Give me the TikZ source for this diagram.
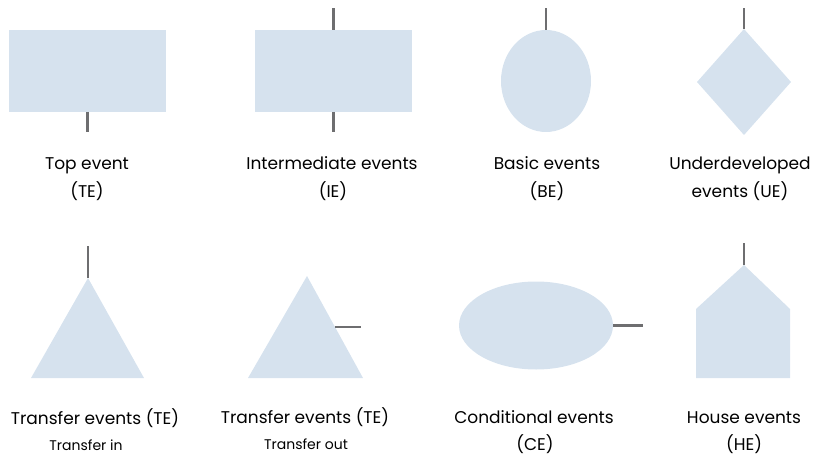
\documentclass[tikz,border=0pt]{standalone}
\usepackage{fontspec}
\setmainfont{Poppins}
\usetikzlibrary{shapes.geometric}

\definecolor{shapefill}{HTML}{D6E2EE}
\definecolor{stubgray}{HTML}{6E6E70}

\tikzset{
  symbol/.style={fill=shapefill, draw=none, inner sep=0pt, outer sep=0pt},
  stub/.style={draw=stubgray, line width=2.7pt},
  caption/.style={anchor=base, inner sep=0pt, text=black, font=\fontsize{17}{20}\selectfont},
  subcaption/.style={anchor=base, inner sep=0pt, text=black, font=\fontsize{14}{17}\selectfont},
}

\begin{document}
\begin{tikzpicture}[x=1pt, y=-1pt]
  \useasboundingbox (0,0) rectangle (818,457);

  % ---- first row: event symbols ----
  \node[symbol, rectangle, minimum width=157pt, minimum height=82pt] (te) at (87.5,71) {};
  \node[symbol, rectangle, minimum width=157pt, minimum height=82pt] (ie) at (333.5,71) {};
  \node[symbol, ellipse, minimum width=90pt, minimum height=102pt] (be) at (546,81) {};
  \node[symbol, diamond, minimum width=94pt, minimum height=106pt] (ue) at (744,82) {};

  \coordinate (teout) at (te.south |- 0,132);
  \coordinate (iein)  at (ie.north |- 0,8);
  \coordinate (ieout) at (ie.south |- 0,132);
  \coordinate (bein)  at (be.north |- 0,8);
  \coordinate (uein)  at (ue.north |- 0,8);

  \draw[stub] (te.south) -- (teout);
  \draw[stub] (ie.north) -- (iein);
  \draw[stub] (ie.south) -- (ieout);
  \draw[stub] (be.north) -- (bein);
  \draw[stub] (ue.north) -- (uein);

  % ---- second row: event symbols ----
  \coordinate (tiapex) at (88,278);
  \fill[shapefill] (31,378) -- (tiapex) -- (144,378) -- cycle;
  \coordinate (tiin) at (88,246);
  \draw[stub] (tiapex) -- (tiin);

  \coordinate (toapex) at (307,276);
  \fill[shapefill] (248,378) -- (toapex) -- (363,378) -- cycle;
  \coordinate (toside) at (335,327);
  \coordinate (toout) at (361,327);
  \draw[stub] (toside) -- (toout);

  \node[symbol, ellipse, minimum width=154pt, minimum height=88pt] (ce) at (536,325.5) {};
  \coordinate (ceout) at (643,325.5);
  \draw[stub] (ce.east) -- (ceout);

  \coordinate (heapex) at (744,265);
  \fill[shapefill] (696,378) -- (696,309) -- (heapex) -- (790,309) -- (790,378) -- cycle;
  \coordinate (hein) at (744,243);
  \draw[stub] (heapex) -- (hein);

  % ---- captions ----
  \node[caption] (tecap1) at (87,170) {Top event};
  \node[caption] (tecap2) at (87,197) {(TE)};
  \node[caption] (iecap1) at (332,170) {Intermediate events};
  \node[caption] (iecap2) at (333,197) {(IE)};
  \node[caption] (becap1) at (547,170) {Basic events};
  \node[caption] (becap2) at (547,197) {(BE)};
  \node[caption] (uecap1) at (740,170) {Underdeveloped};
  \node[caption] (uecap2) at (740,197) {events (UE)};

  \node[caption] (ticap1) at (95,424) {Transfer events (TE)};
  \node[subcaption] (ticap2) at (86,450) {Transfer in};
  \node[caption] (tocap1) at (305,423) {Transfer events (TE)};
  \node[subcaption] (tocap2) at (306,449) {Transfer out};
  \node[caption] (cecap1) at (534,423) {Conditional events};
  \node[caption] (cecap2) at (535,450) {(CE)};
  \node[caption] (hecap1) at (744,423) {House events};
  \node[caption] (hecap2) at (744,450) {(HE)};
\end{tikzpicture}
\end{document}
